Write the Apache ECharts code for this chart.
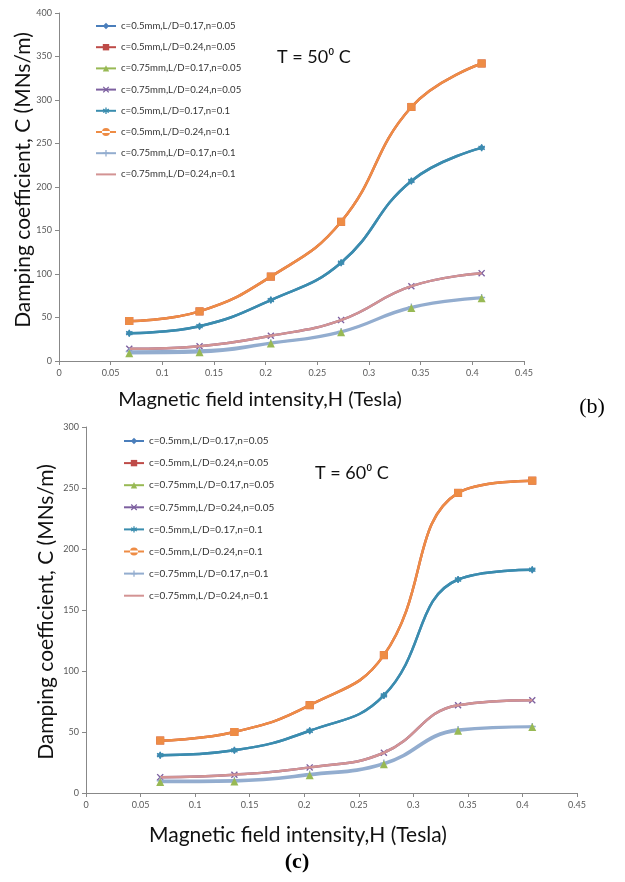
<!DOCTYPE html>
<html><head><meta charset="utf-8">
<script src="https://cdn.jsdelivr.net/npm/echarts@6/dist/echarts.min.js"></script>
<style>html,body{margin:0;padding:0;background:#fff}#c{width:625px;height:882px}</style>
</head><body><div id="c"></div>
<script>
// H values (Tesla)
const H = [0.068, 0.136, 0.205, 0.273, 0.341, 0.409];
const seriesNames = [
  'c=0.5mm,L/D=0.17,n=0.05','c=0.5mm,L/D=0.24,n=0.05','c=0.75mm,L/D=0.17,n=0.05','c=0.75mm,L/D=0.24,n=0.05',
  'c=0.5mm,L/D=0.17,n=0.1','c=0.5mm,L/D=0.24,n=0.1','c=0.75mm,L/D=0.17,n=0.1','c=0.75mm,L/D=0.24,n=0.1'
];
// Panel (b) T = 50 C
const b_s1 = [32, 40, 70, 113, 207, 245];
const b_s2 = [46, 57, 97, 160, 292, 342];
const b_s3 = [9, 10, 20, 33, 61, 72];
const b_s4 = [14, 17, 29, 47, 86, 101];
const b_s5 = [32, 40, 70, 113, 207, 245];
const b_s6 = [46, 57, 97, 160, 292, 342];
const b_s7 = [11, 12, 21, 34, 62, 73];
const b_s8 = [14, 17, 29, 47, 86, 101];
// Panel (c) T = 60 C
const c_s1 = [31, 35, 51, 80, 175, 183];
const c_s2 = [43, 50, 72, 113, 246, 256];
const c_s3 = [9, 9.5, 14.5, 23.5, 51, 54];
const c_s4 = [13, 15, 21, 33, 72, 76];
const c_s5 = [31, 35, 51, 80, 175, 183];
const c_s6 = [43, 50, 72, 113, 246, 256];
const c_s7 = [10, 10.5, 15.5, 24.5, 52, 54.5];
const c_s8 = [13, 15, 21, 33, 72, 76];
const xTicks = [0, 0.05, 0.1, 0.15, 0.2, 0.25, 0.3, 0.35, 0.4, 0.45];

const COL = ['#4A7EBB','#BE4B48','#98B954','#7D60A0','#3A8DAE','#EE8C45','#93ADCF','#D39393'];
const SYM = [
  'diamond','rect','triangle',
  'path://M1.4,0 5,3.6 8.6,0 10,1.4 6.4,5 10,8.6 8.6,10 5,6.4 1.4,10 0,8.6 3.6,5 0,1.4z',
  'path://M4,0h2v3.3l2.9-1.7 1,1.7L7,5l2.9,1.7-1,1.7L6,6.7V10H4V6.7L1.1,8.4l-1-1.7L3,5 0.1,3.3l1-1.7L4,3.3z',
  'rect',
  'path://M4,0h2v4h4v2H6v4H4V6H0V4h4z',
  'path://M0,0L0,0Z M0,4.6h10v0.8h-10z M10,10L10,10Z'
];
const Z = [2,2,4,2,3,3,3,3];
const font = 'Lato, "Open Sans", "DejaVu Sans", sans-serif';

function mkSeries(arrs, gi){
  return arrs.map((d,i)=>{
    const s = {
      name: seriesNames[i], type:'line', xAxisIndex:gi, yAxisIndex:gi,
      data: d.map((v,k)=>[H[k], v]),
      smooth: 0.45, symbol: SYM[i], symbolSize: (i===1||i===2||i===5)?8:7,
      showSymbol: i !== 7,
      z: Z[i],
      lineStyle:{color: COL[i], width:2.5},
      itemStyle:{color: COL[i]},
      emphasis:{disabled:true}, animation:false
    };
    if (i===2) s.lineStyle.color = COL[6];
    return s;
  });
}
const series = mkSeries([b_s1,b_s2,b_s3,b_s4,b_s5,b_s6,b_s7,b_s8],0)
  .concat(mkSeries([c_s1,c_s2,c_s3,c_s4,c_s5,c_s6,c_s7,c_s8],1));

function legendData(){
  return seriesNames.map((n,i)=>{
    const o = {name:n};
    if (i===2) o.lineStyle = {color: COL[2]};
    if (i===5) o.icon = 'path://M0,3h20v2H0z M6,4a4,4 0 1,0 8,0a4,4 0 1,0 -8,0z';
    return o;
  });
}
function mkLegend(left, top, gap, fs){
  return {orient:'vertical', left:left, top:top, itemWidth:20, itemHeight:8, itemGap:gap,
    selectedMode:false, padding:0, data: legendData(),
    textStyle:{fontFamily:font, fontSize:fs, color:'#333', lineHeight:8}};
}
function xAx(gi){
  return {type:'value', gridIndex:gi, min:0, max:0.45, interval:0.05,
    axisLine:{lineStyle:{color:'#888', width:1}}, axisTick:{show:true, length:4, lineStyle:{color:'#888'}},
    splitLine:{show:false},
    axisLabel:{fontFamily:font, fontSize:9, color:'#595959', margin:8,
      formatter:v=>{ const t = xTicks.find(x=>Math.abs(x-v)<1e-6); return String(t!==undefined?t:v);} }};
}
function yAx(gi, max){
  return {type:'value', gridIndex:gi, min:0, max:max, interval:50,
    axisLine:{show:true, lineStyle:{color:'#888', width:1}}, axisTick:{show:true, length:4, lineStyle:{color:'#888'}},
    splitLine:{show:false},
    axisLabel:{fontFamily:font, fontSize:9, color:'#595959', margin:7}};
}
const titleFont = 'Lato, "Open Sans", "DejaVu Sans", sans-serif';
const option = {
  backgroundColor:'#fff', animation:false,
  grid:[{left:59, top:13, width:465, height:348},{left:86, top:427, width:491, height:366}],
  xAxis:[xAx(0), xAx(1)],
  yAxis:[yAx(0,400), yAx(1,300)],
  legend:[mkLegend(95, 21, 11.2, 9.6), mkLegend(123, 436, 12.1, 10)],
  series: series,
  graphic:[
    {type:'text', x:23, y:180, rotation:Math.PI/2, style:{text:'Damping coefficient, C (MNs/m)', font:'21px '+titleFont, fill:'#111', align:'center', verticalAlign:'middle'}},
    {type:'text', x:46, y:612, rotation:Math.PI/2, style:{text:'Damping coefficient, C (MNs/m)', font:'21px '+titleFont, fill:'#111', align:'center', verticalAlign:'middle'}},
    {type:'text', x:260, y:400, style:{text:'Magnetic field intensity,H (Tesla)', font:'20px '+titleFont, fill:'#111', align:'center', verticalAlign:'middle'}},
    {type:'text', x:298, y:835, style:{text:'Magnetic field intensity,H (Tesla)', font:'21px '+titleFont, fill:'#111', align:'center', verticalAlign:'middle'}},
    {type:'text', x:277, y:57, style:{text:'T = 50\u2070 C', font:'18px '+titleFont, fill:'#111', align:'left', verticalAlign:'middle'}},
    {type:'text', x:315, y:473, style:{text:'T = 60\u2070 C', font:'18px '+titleFont, fill:'#111', align:'left', verticalAlign:'middle'}},
    {type:'text', x:592, y:407, style:{text:'(b)', font:'22px "Liberation Serif", serif', fill:'#000', align:'center', verticalAlign:'middle'}},
    {type:'text', x:297, y:862, style:{text:'(c)', font:'bold 22px "Liberation Serif", serif', fill:'#000', align:'center', verticalAlign:'middle'}}
  ]
};
const chart = echarts.init(document.getElementById('c'), null, {renderer:'canvas'});
chart.setOption(option);
</script>
</body></html>
